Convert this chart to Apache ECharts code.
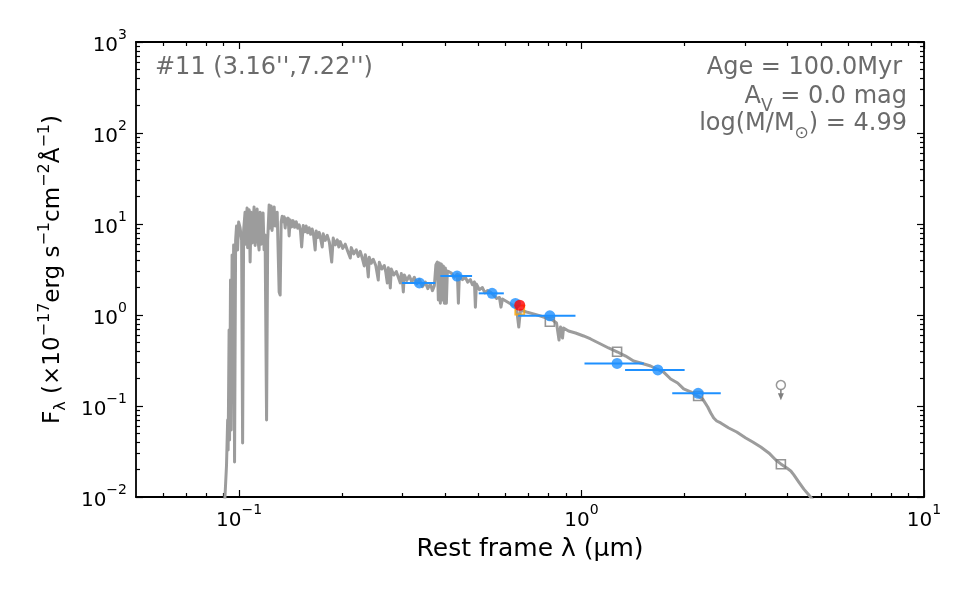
<!DOCTYPE html>
<html>
<head>
<meta charset="utf-8">
<script src="https://cdn.jsdelivr.net/npm/echarts@6/dist/echarts.min.js"></script>
<style>html,body{margin:0;padding:0;background:#fff}#c{width:975px;height:603px}</style>
</head>
<body>
<div id="c"></div>
<script>
// ---------------- data ----------------
// model spectrum: [wavelength (um), F_lambda (1e-17 erg/s/cm2/A)]
const spectrum = [
[0.0907,0.0082],[0.0919,0.0225],[0.0926,0.0702],[0.0929,0.0329],[0.0935,0.684],[0.0938,0.0423],[0.0944,2.42],[0.0948,0.0545],[0.0954,4.56],[0.0957,0.116],
[0.0964,5.88],[0.0970,0.0242],[0.0977,6.67],[0.0983,9.51],[0.0990,5.18],[0.0997,10.5],[0.1007,9.04],[0.1017,6.67],[0.1024,0.0392],[0.1031,8.59],
[0.1041,13.5],[0.1044,6.0],[0.1048,8.59],[0.1055,15.0],[0.1059,5.5],[0.1062,9.75],[0.1070,14.3],[0.1077,3.82],[0.1084,13.5],[0.1092,6.2],
[0.1099,10.5],[0.1106,15.4],[0.1114,5.8],[0.1121,11.1],[0.1129,14.6],[0.1136,6.5],[0.1144,5.18],[0.1152,13.5],[0.1160,6.0],[0.1168,9.75],
[0.1175,13.2],[0.1183,5.2],[0.1191,7.57],[0.1203,0.0702],[0.1212,6.67],[0.1224,16.2],[0.1228,9.0],[0.1232,12.6],[0.1240,15.8],[0.1248,8.5],
[0.1257,11.6],[0.1266,15.4],[0.1274,9.5],[0.1283,10.5],[0.1292,13.5],[0.1309,1.79],[0.1318,1.66],
[0.1327,10.5],[0.1336,12.2],[0.1345,10.6],[0.1354,12.0],[0.1363,9.04],[0.1372,11.4],[0.1382,10.0],[0.1391,11.6],[0.1400,7.38],[0.1410,11.1],
[0.1424,9.3],[0.1438,10.9],[0.1453,9.2],[0.1468,10.6],[0.1483,9.0],[0.1498,9.8],[0.1511,8.4],[0.1523,5.59],[0.1539,9.6],[0.1555,8.2],
[0.1570,9.5],[0.1586,8.0],[0.1602,9.1],[0.1618,7.7],[0.1635,8.8],[0.1650,7.5],[0.1668,5.18],[0.1679,8.4],[0.1696,7.1],[0.1714,8.1],
[0.1730,6.9],[0.1749,5.59],[0.1760,7.8],[0.1785,6.6],[0.1809,7.5],[0.1835,6.3],[0.1864,3.82],[0.1883,7.0],[0.1909,5.9],[0.1935,6.7],
[0.1955,5.6],[0.1974,6.4],[0.2008,5.4],[0.2042,6.0],[0.2077,5.0],[0.2112,4.23],[0.2126,5.5],[0.2162,4.7],[0.2199,5.2],[0.2229,4.4],
[0.2259,5.0],[0.2290,4.2],[0.2320,3.46],[0.2336,4.6],[0.2360,3.9],[0.2384,2.62],[0.2400,4.3],[0.2432,3.7],[0.2465,4.1],[0.2507,3.5],
[0.2549,2.42],[0.2567,3.8],[0.2610,3.2],[0.2655,3.5],[0.2680,3.0],[0.2709,2.25],[0.2727,3.3],[0.2745,2.9],[0.2764,1.98],[0.2783,3.2],
[0.2830,2.75],[0.2878,3.0],[0.2917,2.6],[0.2956,2.25],[0.2976,2.85],[0.2996,2.5],[0.3017,1.79],[0.3037,2.75],[0.3090,2.4],[0.3141,2.7],
[0.3195,2.3],[0.3249,2.6],[0.3305,2.2],[0.3360,2.45],[0.3430,2.05],[0.3498,2.3],[0.3558,1.95],[0.3618,2.2],[0.3670,1.85],[0.3717,2.1],
[0.3755,3.54],[0.3793,3.82],[0.3818,1.46],[0.3844,3.73],[0.3870,1.35],[0.3896,3.63],[0.3923,1.46],[0.3949,3.46],[0.3976,1.35],[0.4003,3.29],
[0.4030,1.35],[0.4057,3.04],[0.4112,2.97],[0.4168,2.89],[0.4250,2.6],[0.4339,2.82],[0.4369,1.35],[0.4398,2.75],[0.4490,2.45],[0.4579,2.6],
[0.4650,2.3],[0.4736,2.45],[0.4800,2.15],[0.4866,2.31],[0.4898,1.22],[0.4931,2.19],[0.5030,1.9],[0.5135,2.0],[0.5220,1.75],[0.5311,1.86],
[0.5419,1.79],[0.5530,1.66],[0.5650,1.52],[0.5758,1.56],[0.5816,1.22],[0.5875,1.50],[0.6076,1.39],[0.6284,1.29],
[0.6456,1.19],[0.6557,0.738],[0.6632,1.13],[0.6905,1.08],[0.7239,1.03],[0.7588,0.975],[0.7900,0.927],[0.8226,0.881],[0.8451,0.817],[0.8594,0.531],
[0.8682,0.738],[0.8799,0.559],[0.8859,0.720],[0.9162,0.667],[0.9604,0.634],[1.014,0.588],[1.063,0.545],[1.137,0.480],[1.199,0.434],[1.274,0.392],
[1.345,0.354],[1.419,0.312],[1.488,0.297],[1.591,0.275],[1.668,0.252],[1.737,0.236],[1.821,0.198],[1.908,0.179],[1.987,0.154],[2.083,0.143],
[2.183,0.129],[2.259,0.119],[2.336,0.0975],[2.384,0.0838],[2.432,0.0738],[2.482,0.0684],[2.549,0.0651],[2.691,0.0573],[2.839,0.0518],[3.017,0.0445],
[3.162,0.0402],[3.337,0.0354],[3.522,0.0305],[3.692,0.0255],[3.819,0.0231],[3.976,0.0208],[4.084,0.0193],[4.168,0.0175],[4.310,0.0146],[4.458,0.0122],
[4.611,0.0105],[4.736,0.0093]
];

// observed photometry (blue)
const obsLam   = [0.336, 0.433, 0.548, 0.641, 0.808, 1.27, 1.67, 2.19];
const obsFlux  = [2.25,  2.68,  1.73,  1.34,  0.98,  0.294, 0.249, 0.138];
const obsLamLo = [0.299, 0.387, 0.501, 0.641, 0.653, 1.02, 1.34, 1.84];
const obsLamHi = [0.374, 0.479, 0.593, 0.641, 0.960, 1.52, 2.00, 2.55];

// model photometry (open grey squares)
const modelLam  = [0.808, 1.27, 2.19, 3.82];
const modelFlux = [0.844, 0.395, 0.129, 0.0229];

// narrow band point (red) and its model (orange square)
const nbLam = [0.660];
const nbFlux = [1.28];
const nbModelFlux = [1.135];

// upper limit (open grey circle with arrow)
const ulLam = [3.82];
const ulFlux = [0.170];
const ulArrowTop = [0.152];
const ulArrowEnd = [0.126];

// axes
const xRange = [0.05, 10];
const yRange = [0.01, 1000];
const xMajor = [0.1, 1, 10];
const xMinor = [0.06,0.07,0.08,0.09, 0.2,0.3,0.4,0.5,0.6,0.7,0.8,0.9, 2,3,4,5,6,7,8,9];
const yMajor = [0.01, 0.1, 1, 10, 100, 1000];
const yMinor = [0.02,0.03,0.04,0.05,0.06,0.07,0.08,0.09, 0.2,0.3,0.4,0.5,0.6,0.7,0.8,0.9,
                2,3,4,5,6,7,8,9, 20,30,40,50,60,70,80,90, 200,300,400,500,600,700,800,900];

// texts
const xTitle = 'Rest frame λ (μm)';
const sourceLabel = "#11 (3.16'',7.22'')";
const ageText = 'Age = 100.0Myr';
const avText = ['A', 'V', ' = 0.0 mag'];
const massText = ['log(M/M', '⊙', ') = 4.99'];

// ---------------- chart ----------------
const L = Math.log10;
const FONT = 'DejaVu Sans';
const ANN = '#6b6b6b';

function powLabel(v) {
  const e = Math.round(v);
  return '{b|10}{s|' + (e < 0 ? '\u2212' + (-e) : String(e)) + '}';
}
const tickRich = {
  b: {fontSize: 20, lineHeight: 28, verticalAlign: 'bottom', fontFamily: FONT, color: '#000'},
  s: {fontSize: 14, lineHeight: 14, verticalAlign: 'top', fontFamily: FONT, color: '#000'}
};

function axisCommon(range, vals, len, showLine) {
  return {
    type: 'value', min: L(range[0]), max: L(range[1]),
    axisLine: {show: showLine, onZero: false, lineStyle: {color: '#000', width: 1.8}},
    axisTick: {show: true, inside: true, length: len, customValues: vals.map(L),
               lineStyle: {color: '#000', width: 1.2}},
    splitLine: {show: false}, minorTick: {show: false}
  };
}

const xAxes = [
  Object.assign(axisCommon(xRange, xMajor, 7, true), {
    position: 'bottom',
    axisLabel: {show: true, customValues: xMajor.map(L), margin: 6, formatter: powLabel, rich: tickRich},
    name: xTitle, nameLocation: 'middle', nameGap: 40,
    nameTextStyle: {fontSize: 25, fontFamily: FONT, color: '#000'}
  }),
  Object.assign(axisCommon(xRange, xMinor, 4, false), {position: 'bottom', axisLabel: {show: false}}),
  Object.assign(axisCommon(xRange, xMajor, 7, true), {position: 'top', axisLabel: {show: false}}),
  Object.assign(axisCommon(xRange, xMinor, 4, false), {position: 'top', axisLabel: {show: false}})
];

const yName = '{b|F}{sub|λ}{b| (×10}{sup|\u221217}{b|erg s}{sup|\u22121}{b|cm}{sup|\u22122}{b|Å}{sup|\u22121}{b|)}';
const yAxes = [
  Object.assign(axisCommon(yRange, yMajor, 7, true), {
    position: 'left',
    axisLabel: {show: true, customValues: yMajor.map(L), margin: 9, formatter: powLabel, rich: tickRich},
    name: yName, nameLocation: 'middle', nameGap: 67, nameRotate: 90,
    nameTextStyle: {
      fontFamily: FONT, color: '#000',
      rich: {
        b: {fontSize: 23, lineHeight: 32, fontFamily: FONT, color: '#000'},
        sup: {fontSize: 16, lineHeight: 16, verticalAlign: 'top', fontFamily: FONT, color: '#000'},
        sub: {fontSize: 16, lineHeight: 16, verticalAlign: 'bottom', fontFamily: FONT, color: '#000'}
      }
    }
  }),
  Object.assign(axisCommon(yRange, yMinor, 4, false), {position: 'left', axisLabel: {show: false}}),
  Object.assign(axisCommon(yRange, yMajor, 7, true), {position: 'right', axisLabel: {show: false}}),
  Object.assign(axisCommon(yRange, yMinor, 4, false), {position: 'right', axisLabel: {show: false}})
];

const annRich = {
  b: {fontSize: 24, lineHeight: 30, verticalAlign: 'top', fontFamily: FONT, fill: ANN},
  sub: {fontSize: 17, lineHeight: 17, verticalAlign: 'bottom', fontFamily: FONT, fill: ANN}
};

const chart = echarts.init(document.getElementById('c'), null, {renderer: 'canvas'});
chart.setOption({
  animation: false,
  backgroundColor: '#fff',
  textStyle: {fontFamily: FONT},
  grid: {left: 136, top: 42, right: 51, bottom: 106, containLabel: false, outerBoundsMode: 'none'},
  xAxis: xAxes,
  yAxis: yAxes,
  series: [
    {
      name: 'model spectrum', type: 'line', xAxisIndex: 0, yAxisIndex: 0,
      data: spectrum.map(p => [L(p[0]), L(p[1])]),
      showSymbol: false, symbol: 'none', clip: true, z: 2,
      lineStyle: {color: '#9c9c9c', width: 3, join: 'round'}
    },
    {
      name: 'model phot', type: 'scatter', z: 3,
      data: modelLam.map((x, i) => [L(x), L(modelFlux[i])]),
      symbol: 'rect', symbolSize: 9,
      itemStyle: {color: 'rgba(255,255,255,0)', borderColor: '#7a7a7a', borderWidth: 1.6}
    },
    {
      name: 'nb model', type: 'scatter', z: 3,
      data: nbLam.map((x, i) => [L(x), L(nbModelFlux[i])]),
      symbol: 'rect', symbolSize: 9,
      itemStyle: {color: 'rgba(255,255,255,0)', borderColor: '#FFA500', borderWidth: 1.8}
    },
    {
      name: 'xerr', type: 'custom', z: 4,
      data: obsLam.map((x, i) => [L(x), L(obsFlux[i]), L(obsLamLo[i]), L(obsLamHi[i])]),
      encode: {x: 0, y: 1},
      renderItem: function (params, api) {
        const y = api.value(1);
        const p1 = api.coord([api.value(2), y]);
        const p2 = api.coord([api.value(3), y]);
        return {type: 'line', shape: {x1: p1[0], y1: p1[1], x2: p2[0], y2: p2[1]},
                style: {stroke: '#1E90FF', lineWidth: 2}};
      }
    },
    {
      name: 'observed', type: 'scatter', z: 5,
      data: obsLam.map((x, i) => [L(x), L(obsFlux[i])]),
      symbol: 'circle', symbolSize: 11,
      itemStyle: {color: '#1E90FF'}
    },
    {
      name: 'narrow band', type: 'scatter', z: 6,
      data: nbLam.map((x, i) => [L(x), L(nbFlux[i])]),
      symbol: 'circle', symbolSize: 11,
      itemStyle: {color: '#FF0000'}
    },
    {
      name: 'upper limit', type: 'scatter', z: 5,
      data: ulLam.map((x, i) => [L(x), L(ulFlux[i])]),
      symbol: 'circle', symbolSize: 9,
      itemStyle: {color: 'rgba(255,255,255,0)', borderColor: '#808080', borderWidth: 1.5}
    },
    {
      name: 'upper limit arrow', type: 'line', z: 5, showSymbol: true,
      data: [
        {value: [L(ulLam[0]), L(ulArrowTop[0])], symbol: 'none'},
        {value: [L(ulLam[0]), L(ulArrowEnd[0])], symbol: 'triangle', symbolRotate: 180, symbolSize: [6, 7]}
      ],
      lineStyle: {color: '#808080', width: 1.5},
      itemStyle: {color: '#808080'}
    }
  ],
  graphic: [
    {type: 'text', x: 155, y: 68, z: 10,
     style: {text: sourceLabel, fontSize: 24, fontFamily: FONT, fill: ANN, align: 'left', verticalAlign: 'middle'}},
    {type: 'text', x: 902, y: 68, z: 10,
     style: {text: ageText, fontSize: 24, fontFamily: FONT, fill: ANN, align: 'right', verticalAlign: 'middle'}},
    {type: 'text', x: 907, y: 100, z: 10,
     style: {text: '{b|' + avText[0] + '}{sub|' + avText[1] + '}{b|' + avText[2] + '}', rich: annRich,
             align: 'right', verticalAlign: 'middle'}},
    {type: 'text', x: 907, y: 127, z: 10,
     style: {text: '{b|' + massText[0] + '}{sub|' + massText[1] + '}{b|' + massText[2] + '}', rich: annRich,
             align: 'right', verticalAlign: 'middle'}}
  ]
});
</script>
</body>
</html>
